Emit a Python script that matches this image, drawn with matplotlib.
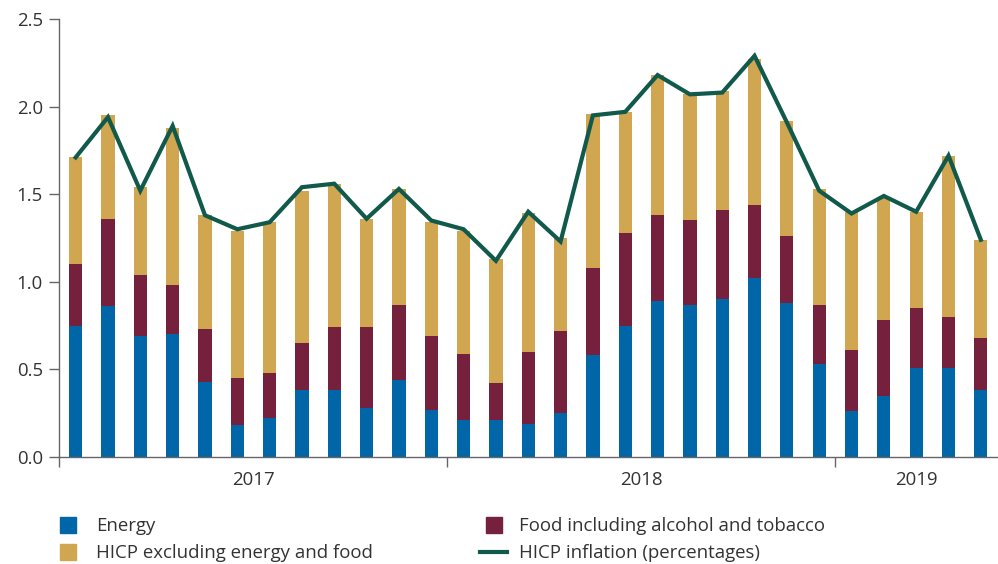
import matplotlib
matplotlib.use("Agg")
import matplotlib.pyplot as plt
from matplotlib.lines import Line2D
import numpy as np

plt.rcParams['font.family'] = ['Open Sans', 'DejaVu Sans']

# Monthly, Jan 2017 - May 2019
energy = [0.75, 0.86, 0.69, 0.70, 0.43, 0.18, 0.22, 0.38, 0.38, 0.28, 0.44, 0.27,
          0.21, 0.21, 0.19, 0.25, 0.58, 0.75, 0.89, 0.87, 0.90, 1.02, 0.88, 0.53,
          0.26, 0.35, 0.51, 0.51, 0.38]
food = [0.35, 0.50, 0.35, 0.28, 0.30, 0.27, 0.26, 0.27, 0.36, 0.46, 0.43, 0.42,
        0.38, 0.21, 0.41, 0.47, 0.50, 0.53, 0.49, 0.48, 0.51, 0.42, 0.38, 0.34,
        0.35, 0.43, 0.34, 0.29, 0.30]
core = [0.61, 0.59, 0.50, 0.90, 0.65, 0.84, 0.86, 0.87, 0.82, 0.62, 0.66, 0.65,
        0.70, 0.71, 0.79, 0.53, 0.88, 0.69, 0.80, 0.72, 0.68, 0.83, 0.66, 0.66,
        0.79, 0.70, 0.55, 0.92, 0.56]
hicp = [1.71, 1.94, 1.52, 1.89, 1.38, 1.30, 1.34, 1.54, 1.56, 1.36, 1.53, 1.35,
        1.30, 1.12, 1.40, 1.23, 1.95, 1.97, 2.18, 2.07, 2.08, 2.29, 1.91, 1.52,
        1.39, 1.49, 1.40, 1.72, 1.24]
years = ['2017', '2018', '2019']
year_pos = [5.5, 17.5, 26]
year_bounds = [-0.5, 11.5, 23.5]

c_energy = '#0066a8'
c_food = '#75213e'
c_core = '#d0a651'
c_line = '#115a4b'
c_axis = '#666666'
c_text = '#333333'

x = np.arange(len(energy))
energy_a = np.array(energy)
food_a = np.array(food)
core_a = np.array(core)

fig = plt.figure(figsize=(9.98, 5.64), dpi=100)
ax = fig.add_axes([0.0596, 0.1897, 0.9394, 0.7766])

w = 0.41
ax.bar(x, energy_a, w, color=c_energy, zorder=2)
ax.bar(x, food_a, w, bottom=energy_a, color=c_food, zorder=2)
ax.bar(x, core_a, w, bottom=energy_a + food_a, color=c_core, zorder=2)
ax.plot(x, hicp, color=c_line, lw=3.0, zorder=3, solid_joinstyle='miter')

ax.set_xlim(-0.5, 28.5)
ax.set_ylim(0, 2.5)
ax.set_yticks([0, 0.5, 1.0, 1.5, 2.0, 2.5])
ax.set_yticklabels(['0.0', '0.5', '1.0', '1.5', '2.0', '2.5'])
ax.set_xticks(year_bounds)
ax.set_xticklabels([])
ax.set_xticks(year_pos, minor=True)
ax.set_xticklabels(years, minor=True)

for s in ['top', 'right']:
    ax.spines[s].set_visible(False)
for s in ['left', 'bottom']:
    ax.spines[s].set_color(c_axis)
    ax.spines[s].set_linewidth(1.0)

fs = 13.4
ax.tick_params(axis='y', length=7, width=1.0, color=c_axis, labelsize=fs,
               labelcolor=c_text, pad=5)
ax.tick_params(axis='x', which='major', length=7, width=1.0, color=c_axis)
ax.tick_params(axis='x', which='minor', length=0, labelsize=fs,
               labelcolor=c_text, pad=10)

h_energy = Line2D([], [], marker='s', markersize=11.5, linestyle='none', color=c_energy)
h_core = Line2D([], [], marker='s', markersize=11.5, linestyle='none', color=c_core)
h_food = Line2D([], [], marker='s', markersize=11.5, linestyle='none', color=c_food)
h_line = Line2D([], [], color=c_line, lw=3.0)

leg1 = fig.legend([h_energy, h_core], ['Energy', 'HICP excluding energy and food'],
                  loc='center left', bbox_to_anchor=(0.055, 0.043), frameon=False,
                  fontsize=fs, handlelength=1.45, handletextpad=0.75,
                  borderpad=0, borderaxespad=0, labelspacing=0.5,
                  labelcolor=c_text)
leg2 = fig.legend([h_food, h_line], ['Food including alcohol and tobacco',
                                     'HICP inflation (percentages)'],
                  loc='center left', bbox_to_anchor=(0.481, 0.043), frameon=False,
                  fontsize=fs, handlelength=1.45, handletextpad=0.65,
                  borderpad=0, borderaxespad=0, labelspacing=0.5,
                  labelcolor=c_text)

fig.savefig('out.png', dpi=100)
